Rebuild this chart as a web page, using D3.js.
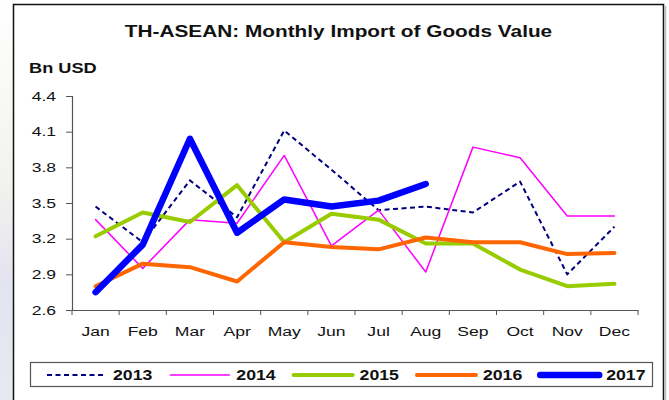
<!DOCTYPE html>
<html>
<head>
<meta charset="utf-8">
<script src="https://cdn.jsdelivr.net/npm/d3@7/dist/d3.min.js"></script>
<style>
  html, body { margin: 0; padding: 0; background: #fff; }
  svg { display: block; font-family: "Liberation Sans", Arial, sans-serif; }
</style>
</head>
<body>
<svg id="chart" width="669" height="400"></svg>
<script>
// Monthly import of goods value from ASEAN, billion USD
const months = ["Jan","Feb","Mar","Apr","May","Jun","Jul","Aug","Sep","Oct","Nov","Dec"];
const yTicks = [2.6, 2.9, 3.2, 3.5, 3.8, 4.1, 4.4];

const v2013 = [3.47, 3.17, 3.69, 3.38, 4.11, 3.78, 3.44, 3.47, 3.42, 3.68, 2.90, 3.30];
const v2014 = [3.36, 2.95, 3.36, 3.33, 3.90, 3.14, 3.44, 2.92, 3.97, 3.88, 3.39, 3.39];
const v2015 = [3.22, 3.42, 3.34, 3.65, 3.17, 3.41, 3.36, 3.16, 3.16, 2.94, 2.80, 2.82];
const v2016 = [2.80, 2.99, 2.96, 2.84, 3.17, 3.13, 3.11, 3.21, 3.17, 3.17, 3.07, 3.08];
const v2017 = [2.75, 3.15, 4.04, 3.25, 3.53, 3.47, 3.52, 3.66];

const series = [
  { name: "2013", values: v2013, color: "#000080", width: 2,   dash: "5,3.5" },
  { name: "2014", values: v2014, color: "#ff00ff", width: 1.5, dash: null },
  { name: "2015", values: v2015, color: "#99cc00", width: 4,   dash: null },
  { name: "2016", values: v2016, color: "#ff6600", width: 4,   dash: null },
  { name: "2017", values: v2017, color: "#0000ff", width: 6.5, dash: null }
];

// the lettering is set wide: glyphs are stretched horizontally
const STRETCH_TITLE = 1.3, STRETCH_AXIS = 1.3, STRETCH_LEGEND = 1.18;

const svg = d3.select("#chart");

// page backdrop left of the frame
const grad = svg.append("defs").append("linearGradient")
  .attr("id", "side").attr("x1", 0).attr("y1", 0).attr("x2", 0).attr("y2", 1);
grad.append("stop").attr("offset", "0%").attr("stop-color", "#ffffff");
grad.append("stop").attr("offset", "45%").attr("stop-color", "#f4f2ee");
grad.append("stop").attr("offset", "70%").attr("stop-color", "#e4e4f0");
grad.append("stop").attr("offset", "100%").attr("stop-color", "#e8e8f2");
svg.append("rect").attr("x", 0).attr("y", 0).attr("width", 13).attr("height", 400)
  .attr("fill", "url(#side)");

// chart frame
svg.append("path")
  .attr("d", "M13.5,400 V4.5 H663.5 V400")
  .attr("fill", "none").attr("stroke", "#111").attr("stroke-width", 1.5);
svg.append("line").attr("x1", 665.5).attr("x2", 665.5).attr("y1", 6).attr("y2", 400)
  .attr("stroke", "#bbb").attr("stroke-width", 1.5);

// stretched text helper
function wideText(parent, x, y, sx, size, str, anchor) {
  return parent.append("text")
    .attr("transform", `translate(${x},${y}) scale(${sx},1)`)
    .attr("text-anchor", anchor || "start")
    .attr("font-size", size)
    .attr("font-weight", "bold")
    .attr("fill", "#111")
    .text(str);
}

// title and unit
wideText(svg, 338.5, 36.5, STRETCH_TITLE, 16, "TH-ASEAN: Monthly Import of Goods Value", "middle");
wideText(svg, 29, 72.5, STRETCH_TITLE, 14, "Bn USD");

const x0 = 72, x1 = 638, yTop = 96, yBot = 310;

const x = d3.scaleBand().domain(months).range([x0, x1]).paddingInner(0).paddingOuter(0);
const y = d3.scaleLinear().domain([2.6, 4.4]).range([yBot, yTop]);

const yAxis = svg.append("g").attr("transform", `translate(${x0},0)`)
  .call(d3.axisLeft(y).tickValues(yTicks).tickFormat(d3.format(".1f")).tickSizeOuter(0).tickSize(6).tickPadding(4));
const xAxis = svg.append("g").attr("transform", `translate(0,${yBot})`)
  .call(d3.axisBottom(x).tickSizeOuter(0).tickSize(0).tickPadding(16));

// tick marks between month categories
xAxis.selectAll(".sep").data(d3.range(months.length + 1)).enter().append("line")
  .attr("x1", i => x0 + i * x.bandwidth()).attr("x2", i => x0 + i * x.bandwidth())
  .attr("y1", 0).attr("y2", 5).attr("stroke", "#555").attr("stroke-width", 1);

[yAxis, xAxis].forEach(g => {
  g.selectAll(".domain").attr("stroke", "#555").attr("stroke-width", 1.2);
  g.selectAll(".tick line").attr("stroke", "#555");
  g.selectAll("text").attr("font-size", 13.5).attr("fill", "#111")
    .attr("font-family", "'Liberation Sans', Arial, sans-serif");
});

// widen the tick labels, keeping their anchor point in place
yAxis.selectAll(".tick text")
  .attr("x", -16 / STRETCH_AXIS)
  .attr("transform", `scale(${STRETCH_AXIS},1)`);
xAxis.selectAll(".tick text")
  .attr("transform", `scale(${STRETCH_AXIS},1)`);

const line = d3.line()
  .x((d, i) => x(months[i]) + x.bandwidth() / 2)
  .y(d => y(d));

svg.append("g").selectAll("path").data(series).enter().append("path")
  .attr("d", s => line(s.values))
  .attr("fill", "none")
  .attr("stroke", s => s.color)
  .attr("stroke-width", s => s.width)
  .attr("stroke-dasharray", s => s.dash)
  .attr("stroke-linejoin", "round")
  .attr("stroke-linecap", s => s.dash ? "butt" : "round");

// legend
const lg = svg.append("g");
lg.append("rect").attr("x", 30.5).attr("y", 362.5).attr("width", 622).attr("height", 24)
  .attr("fill", "#fff").attr("stroke", "#555").attr("stroke-width", 1.2);
const item = lg.selectAll("g.item").data(series).enter().append("g")
  .attr("transform", (d, i) => `translate(${47 + i * 123.3},375)`);
item.append("line").attr("x1", 0).attr("x2", 59).attr("y1", 0).attr("y2", 0)
  .attr("stroke", s => s.color)
  .attr("stroke-width", s => s.width)
  .attr("stroke-dasharray", s => s.dash)
  .attr("stroke-linecap", s => s.dash ? "butt" : "round");
item.each(function (s) {
  wideText(d3.select(this), 66, 4.8, STRETCH_LEGEND, 15, s.name);
});
</script>
</body>
</html>
